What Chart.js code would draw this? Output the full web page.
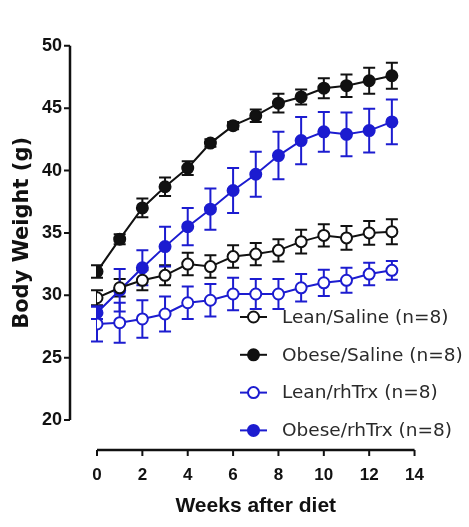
<!DOCTYPE html>
<html>
<head>
<meta charset="utf-8">
<title>Body weight</title>
<script src="https://cdn.jsdelivr.net/npm/chart.js@4.4.0/dist/chart.umd.min.js"></script>
<style>
    html, body { margin: 0; padding: 0; background: #fff; }
    #wrap { width: 469px; height: 527px; position: relative; }
</style>
</head>
<body>
<div id="wrap"><canvas id="bwChart"></canvas></div>
<script>
// weeks after diet
const weeks = [0, 1, 2, 3, 4, 5, 6, 7, 8, 9, 10, 11, 12, 13];

// body weight means (g) and SEM
const leanSaline     = [29.8, 30.6, 31.2, 31.6, 32.5, 32.3, 33.1, 33.3, 33.6, 34.3, 34.8, 34.6, 35.0, 35.1];
const leanSalineErr  = [0.6, 0.7, 0.8, 0.8, 0.9, 0.9, 0.9, 0.9, 0.9, 0.95, 0.9, 0.95, 0.95, 1.0];
const obeseSaline    = [31.9, 34.5, 37.0, 38.7, 40.2, 42.2, 43.6, 44.4, 45.4, 45.9, 46.6, 46.8, 47.2, 47.6];
const obeseSalineErr = [0.5, 0.4, 0.75, 0.75, 0.55, 0.3, 0.3, 0.5, 0.75, 0.6, 0.8, 0.9, 1.05, 1.05];
const leanTrx        = [27.7, 27.8, 28.1, 28.5, 29.4, 29.6, 30.1, 30.1, 30.1, 30.6, 31.0, 31.2, 31.7, 32.0];
const leanTrxErr     = [1.4, 1.6, 1.5, 1.4, 1.3, 1.3, 1.3, 1.2, 1.2, 1.1, 1.05, 1.0, 0.9, 0.75];
const obeseTrx       = [28.6, 30.4, 32.2, 33.9, 35.5, 36.9, 38.4, 39.7, 41.2, 42.4, 43.1, 42.9, 43.2, 43.9];
const obeseTrxErr    = [0.5, 1.7, 1.4, 1.6, 1.5, 1.65, 1.8, 1.8, 1.9, 1.9, 1.6, 1.75, 1.75, 1.8];

const seriesNames = ['Lean/Saline (n=8)', 'Obese/Saline (n=8)', 'Lean/rhTrx (n=8)', 'Obese/rhTrx (n=8)'];

// axis ticks
const xTicks = [0, 2, 4, 6, 8, 10, 12, 14];
const yTicks = [20, 25, 30, 35, 40, 45, 50];

const BLACK = '#111111';
const BLUE = '#1c1cd0';

function makeSet(label, values, errors, color, open) {
    return {
        label: label,
        data: weeks.map((w, i) => ({ x: w, y: values[i] })),
        errors: errors,
        borderColor: color,
        borderWidth: 2,
        pointRadius: 5.5,
        pointHoverRadius: 5.5,
        pointBorderWidth: 2,
        pointBorderColor: color,
        pointBackgroundColor: open ? '#ffffff' : color,
        openMarker: open,
        tension: 0,
        fill: false
    };
}

// vertical SEM bars with caps, drawn under the markers
const errorBars = {
    id: 'errorBars',
    beforeDatasetsDraw(chart) {
        const { ctx, scales: { x, y } } = chart;
        ctx.save();
        chart.data.datasets.forEach(ds => {
            ctx.strokeStyle = ds.borderColor;
            ctx.lineWidth = 2;
            ds.data.forEach((p, i) => {
                const px = x.getPixelForValue(p.x);
                const top = y.getPixelForValue(p.y + ds.errors[i]);
                const bot = y.getPixelForValue(p.y - ds.errors[i]);
                ctx.beginPath();
                ctx.moveTo(px, top); ctx.lineTo(px, bot);
                ctx.moveTo(px - 6, top); ctx.lineTo(px + 6, top);
                ctx.moveTo(px - 6, bot); ctx.lineTo(px + 6, bot);
                ctx.stroke();
            });
        });
        ctx.restore();
    }
};

// detached Prism-style axis lines
const offsetAxes = {
    id: 'offsetAxes',
    afterDraw(chart) {
        const { ctx, chartArea, scales: { x, y } } = chart;
        const ax = chartArea.left - 27;
        const ay = chartArea.bottom + 30;
        ctx.save();
        ctx.strokeStyle = '#111';
        ctx.lineWidth = 2.5;
        ctx.beginPath();
        ctx.moveTo(ax, y.getPixelForValue(yTicks[yTicks.length - 1]));
        ctx.lineTo(ax, y.getPixelForValue(yTicks[0]));
        ctx.moveTo(x.getPixelForValue(xTicks[0]), ay);
        ctx.lineTo(x.getPixelForValue(xTicks[xTicks.length - 1]), ay);
        ctx.stroke();
        ctx.lineWidth = 2;
        ctx.beginPath();
        yTicks.forEach(v => {
            const py = y.getPixelForValue(v);
            ctx.moveTo(ax - 6, py); ctx.lineTo(ax, py);
        });
        xTicks.forEach(v => {
            const px = x.getPixelForValue(v);
            ctx.moveTo(px, ay); ctx.lineTo(px, ay + 6);
        });
        ctx.stroke();
        ctx.restore();
    }
};

// legend inside the plot, lower right
const insideLegend = {
    id: 'insideLegend',
    afterDraw(chart) {
        const { ctx } = chart;
        ctx.save();
        ctx.font = '18.5px "DejaVu Sans"';
        ctx.textBaseline = 'middle';
        ctx.textAlign = 'left';
        chart.data.datasets.forEach((ds, i) => {
            const ly = 317 + i * 37.8;
            ctx.strokeStyle = ds.borderColor;
            ctx.lineWidth = 2;
            ctx.beginPath();
            ctx.moveTo(240, ly); ctx.lineTo(267, ly);
            ctx.stroke();
            ctx.beginPath();
            ctx.arc(253.5, ly, 5.5, 0, Math.PI * 2);
            ctx.fillStyle = ds.openMarker ? '#fff' : ds.borderColor;
            ctx.fill();
            ctx.stroke();
            ctx.fillStyle = '#2a2a2a';
            ctx.fillText(ds.label, 282, ly + 1);
        });
        ctx.restore();
    }
};

const ctx = document.getElementById('bwChart').getContext('2d');
new Chart(ctx, {
    type: 'line',
    data: {
        datasets: [
            makeSet(seriesNames[0], leanSaline, leanSalineErr, BLACK, true),
            makeSet(seriesNames[1], obeseSaline, obeseSalineErr, BLACK, false),
            makeSet(seriesNames[2], leanTrx, leanTrxErr, BLUE, true),
            makeSet(seriesNames[3], obeseTrx, obeseTrxErr, BLUE, false)
        ]
    },
    options: {
        responsive: true,
        maintainAspectRatio: false,
        animation: false,
        layout: {
            padding: { left: 0, right: 14, top: 20, bottom: 0 }
        },
        plugins: {
            legend: { display: false },
            tooltip: { enabled: false }
        },
        scales: {
            x: {
                type: 'linear',
                min: 0,
                max: 14,
                afterBuildTicks: s => { s.ticks = xTicks.map(v => ({ value: v })); },
                afterFit: s => { s.height = 107; },
                grid: { display: false, drawTicks: false },
                border: { display: false },
                ticks: {
                    color: '#111',
                    padding: 45,
                    maxRotation: 0,
                    font: { family: 'Liberation Sans', weight: 'bold', size: 17 }
                },
                title: {
                    display: true,
                    text: 'Weeks after diet',
                    color: '#111',
                    padding: { top: 0, bottom: 8 },
                    font: { family: 'Liberation Sans', weight: 'bold', size: 21 }
                }
            },
            y: {
                min: 20,
                max: 50,
                afterBuildTicks: s => { s.ticks = yTicks.map(v => ({ value: v })); },
                afterFit: s => { s.width = 97; },
                grid: { display: false, drawTicks: false },
                border: { display: false },
                ticks: {
                    color: '#111',
                    padding: 35,
                    font: { family: 'Liberation Sans', weight: 'bold', size: 18 }
                },
                title: {
                    display: true,
                    text: 'Body Weight (g)',
                    color: '#111',
                    padding: { top: 10, bottom: 0 },
                    font: { family: 'DejaVu Sans', weight: 'bold', size: 21 }
                }
            }
        }
    },
    plugins: [errorBars, offsetAxes, insideLegend]
});
</script>
</body>
</html>
